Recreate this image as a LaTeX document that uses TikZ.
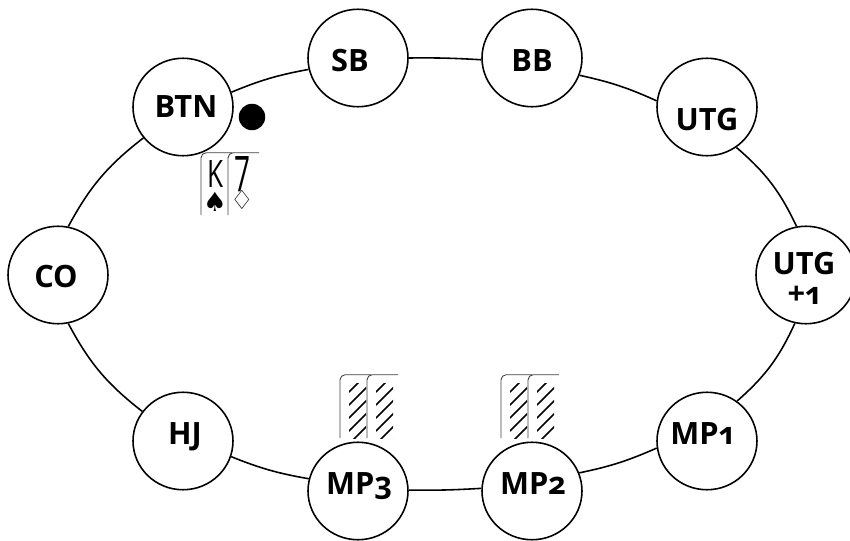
\documentclass[tikz,border=0pt]{standalone}
\usepackage{fontspec}
\usepackage{graphicx}
\setmainfont[Numbers=OldStyle]{Open Sans}
\newfontfamily\suitfont{DejaVu Sans}
\usetikzlibrary{shapes.geometric}
\tikzset{
  seat/.style={ellipse,draw,line width=0.9pt,fill=white,minimum width=2cm,minimum height=1.95cm,inner sep=0pt},
  seatname/.style={font=\fontsize{17.5}{18}\selectfont\bfseries,inner sep=0pt,align=center},
  edgeline/.style={line width=0.9pt},
  cardline/.style={line width=0.5pt,black!75,rounded corners=3pt},
  hatchline/.style={line width=1pt,line cap=round},
  cardsign/.style={inner sep=0pt}
}
\begin{document}
\begin{tikzpicture}[x=0.02cm,y=-0.02cm]
  \useasboundingbox (0,0) rectangle (850,541);

  % seats
  \node[seat] (btn) at (183,107) {};
  \node[seat] (sb) at (358,58) {};
  \node[seat] (bb) at (532,58) {};
  \node[seat] (utg) at (707,107) {};
  \node[seat] (utgp) at (806,275) {};
  \node[seat] (mpa) at (707,441) {};
  \node[seat] (mpb) at (532,491) {};
  \node[seat] (mpc) at (358,491) {};
  \node[seat] (hj) at (183,441) {};
  \node[seat] (co) at (58,275) {};

  % table edge
  \draw[edgeline] (btn.17) to[bend left=6] (sb.193);
  \draw[edgeline] (sb.0) to[bend left=2] (bb.182);
  \draw[edgeline] (bb.-20) to[bend left=6] (utg.173);
  \draw[edgeline] (utg.-54) to[bend left=12] (utgp.101);
  \draw[edgeline] (utgp.257) to[bend left=12] (mpa.53);
  \draw[edgeline] (mpa.188) to[bend left=6] (mpb.21);
  \draw[edgeline] (mpb.177) to[bend left=2] (mpc.1);
  \draw[edgeline] (mpc.166) to[bend left=6] (hj.-18);
  \draw[edgeline] (hj.144) to[bend left=12] (co.-78);
  \draw[edgeline] (co.78) to[bend left=12] (btn.218);

  % names
  \node[seatname] (btnname) at (186,107) {BTN};
  \node[seatname] (sbname) at (350,61) {SB};
  \node[seatname] (bbname) at (532,61) {BB};
  \node[seatname] (utgname) at (707,120) {UTG};
  \node[seatname] (utgpname) at (804,278) {UTG\\[-1pt]+1};
  \node[seatname] (mpaname) at (702,434) {MP1};
  \node[seatname] (mpbname) at (533,484) {MP2};
  \node[seatname] (mpcname) at (359,486) {MP3};
  \node[seatname] (hjname) at (185,437) {HJ};
  \node[seatname] (coname) at (56,277) {CO};

  % dealer button
  \node[circle,fill=black,minimum size=0.53cm,inner sep=0pt] (dealer) at (252,117) {};

  % open cards
  \foreach \x in {201,228}
    \draw[cardline] (\x,215) -- (\x,152.7) -- (\x+31,152.7);
  \node[cardsign] (kname) at (215,174.5) {\resizebox{0.32cm}{0.54cm}{K}};
  \node[cardsign] (sevenname) at (242.5,174.5) {\resizebox{0.32cm}{0.54cm}{7}};
  \node[cardsign,font=\suitfont\fontsize{15}{15}\selectfont] (spade) at (215,202) {♠};
  \node[cardsign,font=\suitfont\fontsize{15}{15}\selectfont] (diamond) at (242,200) {♢};

  % closed cards
  \foreach \x in {340,367,501,528} {
    \draw[cardline] (\x,438) -- (\x,374.7) -- (\x+31,374.7);
    \begin{scope}
      \clip (\x+9,383) rectangle (\x+26,438);
      \foreach \i in {0,...,5}
        \draw[hatchline] (\x+9,{392+13*\i}) -- (\x+29,{372+13*\i});
    \end{scope}
  }
\end{tikzpicture}
\end{document}
